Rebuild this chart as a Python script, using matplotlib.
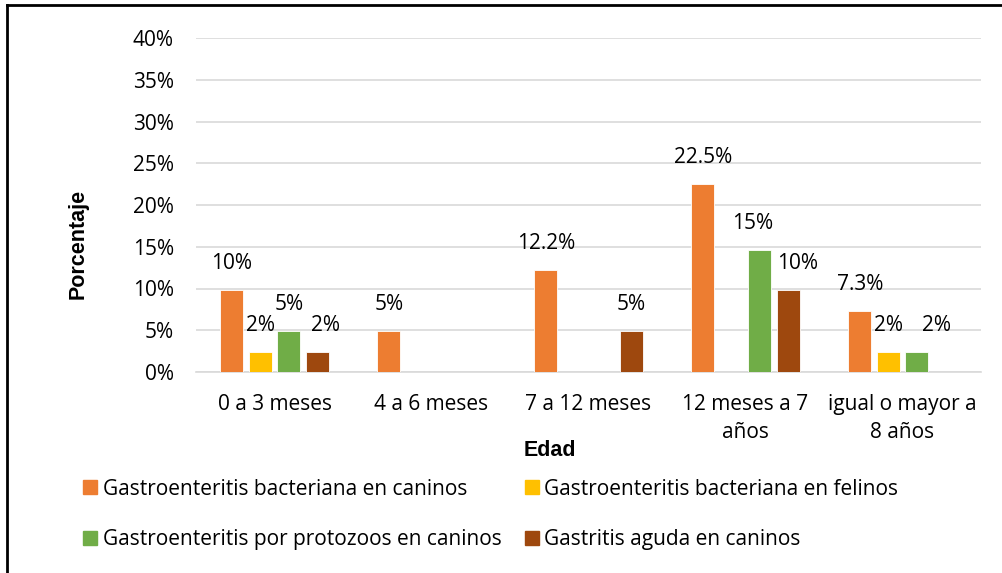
import matplotlib
matplotlib.use("Agg")
import matplotlib.pyplot as plt
from matplotlib.lines import Line2D
import numpy as np

categories = ["0 a 3 meses", "4 a 6 meses", "7 a 12 meses", "12 meses a 7\naños", "igual o mayor a\n8 años"]
series_names = [
    "Gastroenteritis bacteriana en caninos",
    "Gastroenteritis bacteriana en felinos",
    "Gastroenteritis por protozoos en caninos",
    "Gastritis aguda en caninos",
]
bact_caninos = [9.8, 4.9, 12.2, 22.5, 7.3]
bact_felinos = [2.4, 0, 0, 0, 2.4]
protozoos = [4.9, 0, 0, 14.6, 2.4]
gastritis = [2.4, 0, 4.9, 9.8, 0]
bact_caninos_lbl = ["10%", "5%", "12.2%", "22.5%", "7.3%"]
bact_felinos_lbl = ["2%", "", "", "", "2%"]
protozoos_lbl = ["5%", "", "", "15%", "2%"]
gastritis_lbl = ["2%", "", "5%", "10%", ""]
colors = ["#ED7D31", "#FFC000", "#70AD47", "#9E480E"]
yticks = [0, 5, 10, 15, 20, 25, 30, 35, 40]

series = [bact_caninos, bact_felinos, protozoos, gastritis]
labels = [bact_caninos_lbl, bact_felinos_lbl, protozoos_lbl, gastritis_lbl]

# small horizontal nudges (pixels) of data labels, to avoid overlap as in the original
nudge = {(2, 4): 20, (3, 0): 8, (2, 3): -7, (3, 3): 9}

FONT = ["Open Sans", "DejaVu Sans"]
plt.rcParams["font.family"] = FONT
FS = 15

W, H = 1002, 573
fig = plt.figure(figsize=(W / 100, H / 100), dpi=100)
ax = fig.add_axes([196 / W, 1 - 372 / H, (981 - 196) / W, (372 - 38) / H])

x = np.arange(len(categories))
slot = 0.1815
bw = 0.146
for i, (vals, lbls, c) in enumerate(zip(series, labels, colors)):
    off = (i - 1.5) * slot
    bars = ax.bar(x + off, vals, width=bw, color=c, edgecolor="white", linewidth=0.6, zorder=3)
    for j, (b, v, l) in enumerate(zip(bars, vals, lbls)):
        if l:
            dx = nudge.get((i, j), 0) * 0.72
            ax.annotate(l, (b.get_x() + b.get_width() / 2, v), xytext=(dx, 19),
                        textcoords="offset points", ha="center", va="center",
                        fontsize=FS, color="#000000")

ax.set_xlim(-0.5, len(categories) - 0.5)
ax.set_ylim(0, 40)
ax.set_yticks(yticks)
ax.set_yticklabels([f"{t}%" for t in yticks], fontsize=FS)
ax.set_xticks(x)
ax.set_xticklabels(categories, fontsize=FS, linespacing=1.45)
ax.tick_params(axis="both", length=0)
ax.tick_params(axis="x", pad=16)
ax.tick_params(axis="y", pad=16)
ax.grid(axis="y", color="#D9D9D9", linewidth=1.2, zorder=0)
for s in ["top", "right", "left"]:
    ax.spines[s].set_visible(False)
ax.spines["bottom"].set_color("#D9D9D9")
ax.spines["bottom"].set_linewidth(1.2)

fig.text(78 / W, 1 - 244 / H, "Porcentaje", rotation=90, ha="center", va="center",
         fontsize=15.5, fontweight="bold", family=["Liberation Sans"])
fig.text(550 / W, 1 - 450 / H, "Edad", ha="center", va="center",
         fontsize=15.5, fontweight="bold", family=["Liberation Sans"])

# legend (row-wise order as in reference)
order = [0, 2, 1, 3]
handles = [Line2D([0], [0], marker="s", linestyle="none", markersize=10.5,
                  markerfacecolor=colors[k], markeredgecolor=colors[k]) for k in order]
leg = fig.legend(handles, [series_names[k] for k in order], loc="upper left", ncol=2,
                 bbox_to_anchor=(59 / W, 1 - 460 / H), frameon=False,
                 fontsize=FS, handletextpad=0.0, columnspacing=0.85,
                 labelspacing=1.4, handlelength=1.2)

# border
fig.add_artist(Line2D([7 / W, 7 / W], [0, 1 - 5 / H], color="black", linewidth=2, transform=fig.transFigure))
fig.add_artist(Line2D([7 / W, 1], [1 - 5 / H, 1 - 5 / H], color="black", linewidth=2, transform=fig.transFigure))

fig.savefig("out.png", dpi=100)
